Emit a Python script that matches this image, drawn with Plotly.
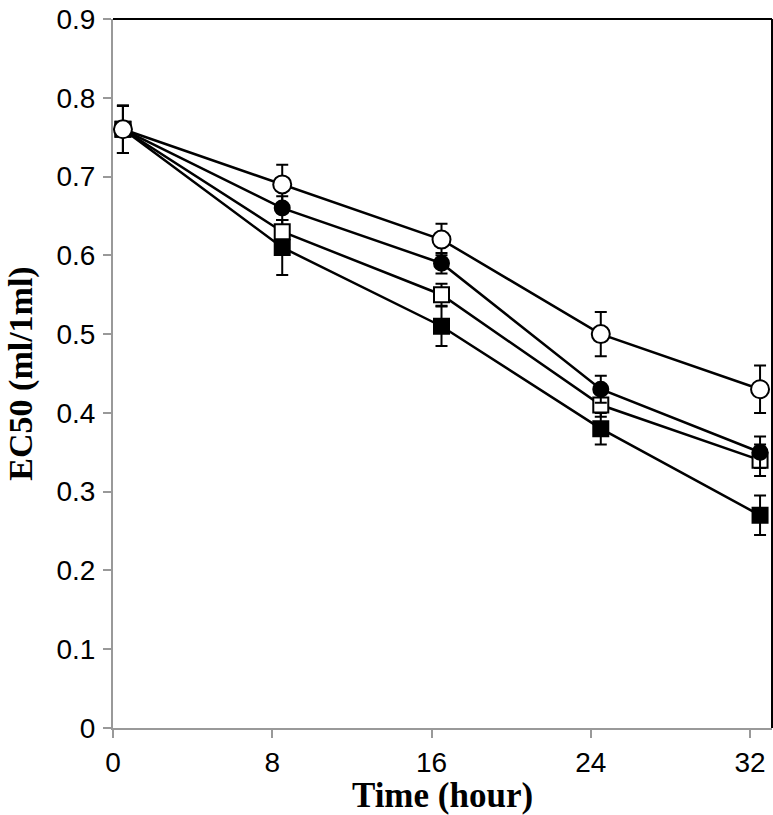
import plotly.graph_objects as go

time_h = [0.5, 8.5, 16.5, 24.5, 32.5]

open_circle = [0.76, 0.69, 0.62, 0.50, 0.43]
open_circle_err = [0.03, 0.025, 0.02, 0.028, 0.03]

filled_circle = [0.76, 0.66, 0.59, 0.43, 0.35]
filled_circle_err = [0.03, 0.015, 0.013, 0.017, 0.02]

open_square = [0.76, 0.63, 0.55, 0.41, 0.34]
open_square_err = [0.03, 0.015, 0.014, 0.015, 0.02]

filled_square = [0.76, 0.61, 0.51, 0.38, 0.27]
filled_square_err = [0.03, 0.035, 0.025, 0.02, 0.025]

x_ticks = [0, 8, 16, 24, 32]
y_ticks = [0, 0.1, 0.2, 0.3, 0.4, 0.5, 0.6, 0.7, 0.8, 0.9]
y_tick_text = ["0", "0.1", "0.2", "0.3", "0.4", "0.5", "0.6", "0.7", "0.8", "0.9"]

series = [
    (filled_square, filled_square_err, "square", "black", 15),
    (open_square, open_square_err, "square", "white", 15),
    (filled_circle, filled_circle_err, "circle", "black", 15),
    (open_circle, open_circle_err, "circle", "white", 18),
]

fig = go.Figure()
for vals, err, sym, fill, size in series:
    fig.add_trace(go.Scatter(
        x=time_h, y=vals,
        mode="lines+markers",
        line=dict(color="black", width=2.5),
        marker=dict(symbol=sym, size=size, color=fill,
                    line=dict(color="black", width=2)),
        error_y=dict(type="data", array=err, visible=True,
                     color="black", thickness=2, width=6),
        cliponaxis=False,
        showlegend=False,
    ))

tick_font = dict(family="Liberation Sans, Arial", size=28, color="black")
title_font_family = "Liberation Serif, Times New Roman"

fig.update_layout(
    width=773, height=815,
    margin=dict(l=113, r=1, t=19, b=87),
    plot_bgcolor="white", paper_bgcolor="white",
    xaxis=dict(
        range=[0, 33.1], tickvals=x_ticks, ticks="outside", ticklen=8,
        tickcolor="#999999", tickwidth=2, showline=True, linecolor="#999999",
        linewidth=2, showgrid=False, zeroline=False,
        tickfont=tick_font, ticklabelstandoff=0,
        title=dict(text="<b>Time (hour)</b>", standoff=4,
                   font=dict(family=title_font_family, size=35, color="black")),
    ),
    yaxis=dict(
        range=[0, 0.9], tickvals=y_ticks, ticktext=y_tick_text, ticks="outside",
        ticklen=8, tickcolor="#999999", tickwidth=2, showline=True,
        linecolor="#999999", linewidth=2, showgrid=False, zeroline=False,
        tickfont=tick_font, ticklabelstandoff=2,
        title=dict(text="<b>EC50 (ml/1ml)</b>", standoff=14,
                   font=dict(family=title_font_family, size=34, color="black")),
    ),
    shapes=[
        dict(type="line", xref="paper", yref="paper", x0=0, x1=1, y0=1, y1=1,
             line=dict(color="black", width=2)),
        dict(type="line", xref="paper", yref="paper", x0=1, x1=1, y0=0, y1=1,
             line=dict(color="black", width=2)),
    ],
)

fig.write_html("out.html", config={"displayModeBar": False},
               post_script="document.body.style.margin='0';")
